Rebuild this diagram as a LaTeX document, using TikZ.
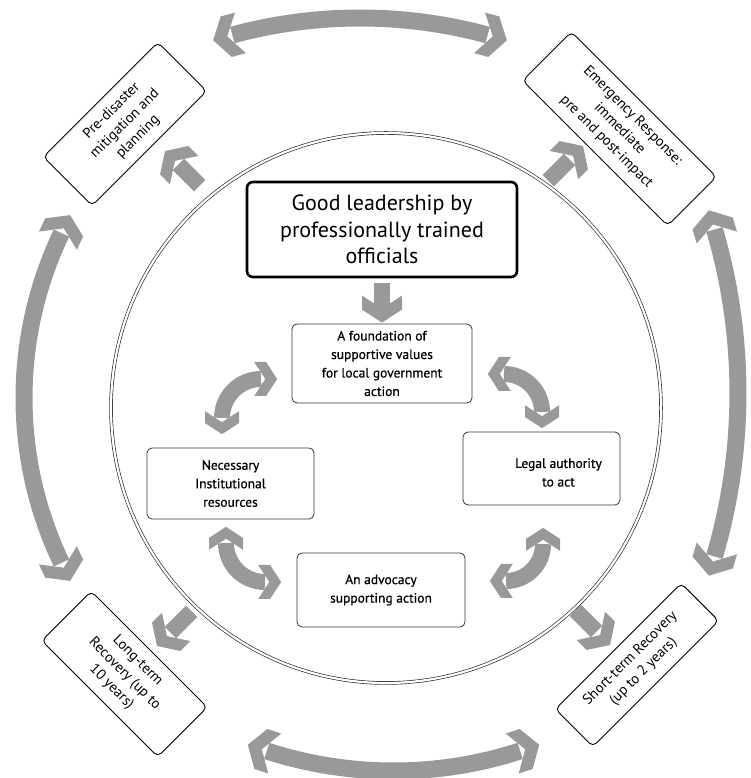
\documentclass[tikz,border=0pt]{standalone}
\usepackage{fontspec}
\setmainfont{PT Sans}
\newfontfamily\semib[FakeBold=0.6]{PT Sans}
\usetikzlibrary{calc}
\definecolor{arrowgray}{RGB}{153,153,153}

\tikzset{
  chev/.pic={\fill[arrowgray] (0,0) -- (-13,20) -- (-27,20) -- (-14,0) -- (-27,-20) -- (-13,-20) -- cycle;},
  shaft/.style={draw=arrowgray, line width=16pt, line cap=butt},
  ring/.style={draw=black!85, line width=0.65pt, double=white, double distance=2.2pt},
  titlebox/.style={draw, line width=2.6pt, rounded corners=6pt, minimum width=270pt, minimum height=95pt,
    align=center, inner sep=0pt, font=\fontsize{22}{26.5}\selectfont},
  innerbox/.style={draw=black!80, line width=0.8pt, rounded corners=5pt, align=center, inner sep=0pt,
    font=\semib\fontsize{13.5}{18.5}\selectfont},
  outerbox/.style={draw, line width=0.9pt, rounded corners=5pt, align=center, inner sep=0pt,
    font=\fontsize{14.5}{18.5}\selectfont},
}

% double headed arc: [chevron scale] centre, radius, start angle, end angle
\newcommand{\dblarc}[5][1]{%
  \draw[shaft] ($(#2)+(#4:#3)$) arc[start angle=#4, end angle=#5, radius=#3];
  \pic[rotate=#5+90, scale=#1] at ($(#2)+(#5:#3)+(#5+90:19*#1)$) {chev};
  \pic[rotate=#4-90, scale=#1] at ($(#2)+(#4:#3)+(#4-90:19*#1)$) {chev};
}
% straight block arrow: tip, direction
\newcommand{\strarrow}[2]{%
  \draw[shaft] ($(#1)+(#2:-19)$) -- ($(#1)+(#2:-49)$);
  \pic[rotate=#2] at (#1) {chev};
}

\begin{document}
\begin{tikzpicture}[x=1pt,y=1pt]
  \useasboundingbox (0,0) rectangle (751,778);
  % inner double ring
  \coordinate (ctr) at (386,370);
  \draw[ring] (ctr) circle[radius=275];

  % central boxes
  \node[titlebox] (title) at (382,548.5) {Good leadership by\\professionally trained\\officials};
  \node[innerbox, minimum width=180pt, minimum height=79pt] (found) at (382,414.5)
    {A foundation of\\supportive values\\for local government\\action};
  \node[innerbox, minimum width=167pt, minimum height=71pt] (necess) at (230.5,294.5)
    {Necessary\\Institutional\\resources};
  \node[innerbox, minimum width=157pt, minimum height=73pt] (legal) at (541.5,309.5) {};
  \node[align=center, inner sep=0pt, font=\semib\fontsize{13.5}{18.5}\selectfont] (legaltext)
    at ($(legal.center)+(17,-4)$) {Legal authority\\to act};
  \node[innerbox, minimum width=168pt, minimum height=74pt] (advoc) at (381,188)
    {An advocacy\\supporting action};

  % leadership arrow down
  \coordinate (ftip) at ($(found.north)+(0,1)$);
  \draw[shaft] ($(title.south)+(0,-5)$) -- ($(ftip)+(0,15)$);
  \pic[rotate=-90] at (ftip) {chev};

  % inner cycle arrows
  \coordinate (cTL) at (261,360);
  \coordinate (cTR) at (504,366);
  \coordinate (cBL) at (265,235);
  \coordinate (cBR) at (506,234);
  \dblarc[0.85]{cTL}{39}{90}{180}
  \dblarc[0.85]{cTR}{38}{0}{90}
  \dblarc[0.85]{cBL}{39}{180}{270}
  \dblarc[0.85]{cBR}{37}{270}{360}

  % phase boxes
  \node[outerbox, rotate=45, minimum width=162pt, minimum height=69pt] (pre) at (125,654)
    {Pre-disaster\\mitigation and\\planning};
  \node[outerbox, rotate=-45, minimum width=205pt, minimum height=69pt] (emerg) at (619.5,649.25)
    {Emergency Response:\\immediate\\pre and post-impact};
  \node[outerbox, rotate=-45, minimum width=164pt, minimum height=70pt] (longt) at (124.5,104)
    {Long-term\\Recovery (up to\\10 years)};
  \node[outerbox, rotate=45, minimum width=178pt, minimum height=53pt] (shortt) at (637,113)
    {Short-term Recovery\\(up to 2 years)};

  % arrows from ring to phase boxes
  \coordinate (tpre) at (165,627);
  \coordinate (temerg) at (583,632);
  \coordinate (tlong) at (157,132);
  \coordinate (tshort) at (610,133);
  \strarrow{tpre}{135}
  \strarrow{temerg}{45}
  \strarrow{tlong}{225}
  \strarrow{tshort}{315}

  % outer cycle arrows
  \coordinate (otop) at (360,273);
  \coordinate (oright) at (157.5,385);
  \coordinate (oleft) at (405.7,380);
  \coordinate (obot) at (393.5,417);
  \begin{scope}[shaft/.append style={line width=17pt}]
    \dblarc[1.05]{otop}{487}{74.8}{105.2}
    \dblarc[1.05]{oright}{580.5}{-16.36}{16.36}
    \dblarc[1.05]{oleft}{381.7}{154.4}{205.6}
    \dblarc[1.05]{obot}{410}{252}{288}
  \end{scope}
\end{tikzpicture}
\end{document}
